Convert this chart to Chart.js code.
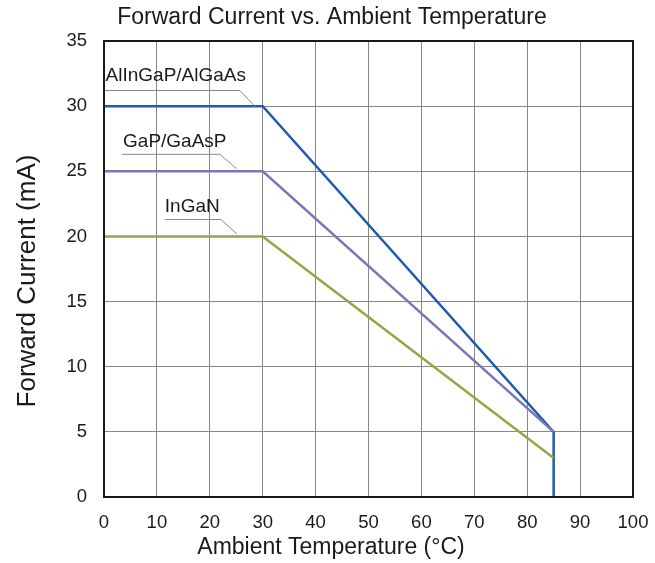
<!DOCTYPE html>
<html>
<head>
<meta charset="utf-8">
<script src="https://cdn.jsdelivr.net/npm/chart.js@4.4.1/dist/chart.umd.min.js"></script>
<style>
html,body{margin:0;padding:0;background:#fff;}
#wrap{width:655px;height:563px;position:relative;}
</style>
</head>
<body>
<div id="wrap"><canvas id="c" width="655" height="563"></canvas></div>
<script>
// Data
const titleText = 'Forward Current vs. Ambient Temperature';
const xTitle = 'Ambient Temperature (°C)';
const yTitle = 'Forward Current (mA)';

const alTemps = [0, 30, 85, 85];
const alCurrent = [30, 30, 5, 0];
const gapTemps = [0, 30, 85];
const gapCurrent = [25, 25, 5];
const inganTemps = [0, 30, 85];
const inganCurrent = [20, 20, 3];

const seriesNames = ['AlInGaP/AlGaAs', 'GaP/GaAsP', 'InGaN'];
const seriesColors = ['#1f5cad', '#7a77b3', '#9ca245'];

// label leader lines (data coords)
const alLeaderX = [0, 25.7, 28.5];
const alLeaderY = [31.2, 31.2, 30];
const gapLeaderX = [3.4, 21.9, 25.1];
const gapLeaderY = [26.3, 26.3, 25.2];
const inganLeaderX = [11.5, 22.1, 25.1];
const inganLeaderY = [21.3, 21.3, 20.2];
// label anchor (left, vertical middle) in data coords
const labelX = [0.3, 3.6, 11.5];
const labelY = [32.3, 27.3, 22.3];

const xTicks = [0,10,20,30,40,50,60,70,80,90,100];
const yTicks = [0,5,10,15,20,25,30,35];

const pts = (xs, ys) => xs.map((x, i) => ({x, y: ys[i]}));

const FONT = '"Liberation Sans", Arial, sans-serif';

const textPlugin = {
  id: 'texts',
  afterDraw(chart) {
    const {ctx, chartArea: a, scales} = chart;
    ctx.save();
    // plot border
    ctx.strokeStyle = '#1a1a1a';
    ctx.lineWidth = 2;
    ctx.strokeRect(a.left, a.top, a.right - a.left, a.bottom - a.top);
    // series labels
    ctx.fillStyle = '#1a1a1a';
    ctx.font = '19px ' + FONT;
    ctx.textAlign = 'left';
    ctx.textBaseline = 'middle';
    seriesNames.forEach((n, i) => {
      ctx.fillText(n, scales.x.getPixelForValue(labelX[i]), scales.y.getPixelForValue(labelY[i]));
    });
    // title
    ctx.textAlign = 'center';
    ctx.font = '23px ' + FONT;
    ctx.fillText(titleText, 332, 18);
    // x title
    ctx.font = '23px ' + FONT;
    ctx.fillText(xTitle, 331, 548);
    // y title
    ctx.translate(28, 281);
    ctx.rotate(-Math.PI / 2);
    ctx.font = '26px ' + FONT;
    ctx.fillText(yTitle, 0, 0);
    ctx.restore();
  }
};

const leader = (xs, ys) => ({
  data: pts(xs, ys), borderColor: '#8a8a8a', borderWidth: 1, pointRadius: 0, tension: 0
});
const series = (xs, ys, c) => ({
  data: pts(xs, ys), borderColor: c, borderWidth: 2.5, pointRadius: 0, tension: 0,
  borderJoinStyle: 'miter'
});

new Chart(document.getElementById('c'), {
  type: 'line',
  data: {
    datasets: [
      leader(alLeaderX, alLeaderY),
      leader(gapLeaderX, gapLeaderY),
      leader(inganLeaderX, inganLeaderY),
      series(inganTemps, inganCurrent, seriesColors[2]),
      series(gapTemps, gapCurrent, seriesColors[1]),
      series(alTemps, alCurrent, seriesColors[0])
    ]
  },
  options: {
    responsive: false,
    animation: false,
    layout: {padding: {top: 41, right: 22, left: 0, bottom: 0}},
    plugins: {legend: {display: false}, tooltip: {enabled: false}, title: {display: false}},
    scales: {
      x: {
        type: 'linear', min: 0, max: 100,
        afterBuildTicks: s => { s.ticks = xTicks.map(v => ({value: v})); },
        afterFit: s => { s.height = 66; s.paddingLeft = 0; s.paddingRight = 0; },
        grid: {color: '#888', lineWidth: 1, drawTicks: false},
        border: {color: '#1a1a1a', width: 2},
        ticks: {color: '#1a1a1a', font: {family: FONT, size: 18.5}, padding: 15, maxRotation: 0}
      },
      y: {
        type: 'linear', min: 0, max: 35,
        afterBuildTicks: s => { s.ticks = yTicks.map(v => ({value: v})); },
        afterFit: s => { s.width = 104; s.paddingTop = 0; s.paddingBottom = 0; },
        grid: {color: '#888', lineWidth: 1, drawTicks: false},
        border: {color: '#1a1a1a', width: 2},
        ticks: {color: '#1a1a1a', font: {family: FONT, size: 18.5}, padding: 17}
      }
    }
  },
  plugins: [textPlugin]
});
</script>
</body>
</html>
